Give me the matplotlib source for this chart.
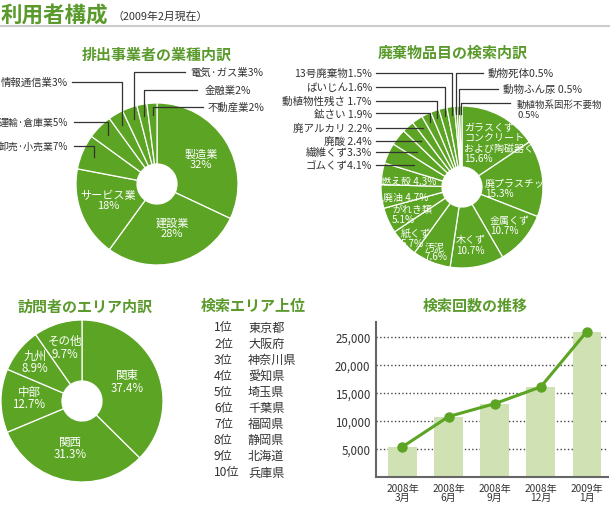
import numpy as np
import matplotlib
matplotlib.use('Agg')
import matplotlib.pyplot as plt
from matplotlib.patches import Circle

plt.rcParams['font.family'] = ['Noto Sans CJK JP', 'DejaVu Sans']

W, H = 610, 506
GREEN = '#5ca424'
TITLE_GREEN = '#5a9a2c'
BAR_GREEN = '#d0e2b4'
TXT = '#333333'

# ---- data ----
ind_labels = ['製造業', '建設業', 'サービス業', '卸売·小売業', '運輸·倉庫業',
              '情報通信業', '電気·ガス業', '金融業', '不動産業']
ind_values = [32, 28, 18, 7, 5, 3, 3, 2, 2]

waste_labels = ['ガラスくず\nコンクリートくず\nおよび陶磁器くず', '廃プラスチック', '金属くず', '木くず',
                '汚泥', '紙くず', 'がれき類', '廃油', '燃え殻', 'ゴムくず', '繊維くず', '廃酸',
                '廃アルカリ', '鉱さい', '動植物性残さ', 'ばいじん', '13号廃棄物', '動物死体',
                '動物ふん尿', '動植物系固形不要物']
waste_values = [15.6, 15.3, 10.7, 10.7, 7.6, 5.7, 5.1, 4.7, 4.3, 4.1, 3.3, 2.4,
                2.2, 1.9, 1.7, 1.6, 1.5, 0.5, 0.5, 0.5]

area_labels = ['関東', '関西', '中部', '九州', 'その他']
area_values = [37.4, 31.3, 12.7, 8.9, 9.7]

rank_nums = ['1位', '2位', '3位', '4位', '5位', '6位', '7位', '8位', '9位', '10位']
rank_prefs = ['東京都', '大阪府', '神奈川県', '愛知県', '埼玉県', '千葉県', '福岡県',
              '静岡県', '北海道', '兵庫県']

months = ['2008年\n3月', '2008年\n6月', '2008年\n9月', '2008年\n12月', '2009年\n1月']
searches = [5400, 10800, 13100, 16100, 26000]

fig = plt.figure(figsize=(W / 100, H / 100), dpi=100)
ax = fig.add_axes([0, 0, 1, 1])


def donut(values, cx, cy, r):
    wedges, _ = ax.pie(values, center=(cx, cy), radius=r, startangle=-90, counterclock=True,
                       colors=[GREEN] * len(values),
                       wedgeprops=dict(width=r - 20, edgecolor='white', linewidth=0.9))
    return wedges


def anchor(w, cx, cy, r, rho):
    t = np.deg2rad((w.theta1 + w.theta2) / 2)
    return cx + rho * r * np.cos(t), cy + rho * r * np.sin(t)


# header
ax.text(1, 15, '利用者構成', fontsize=15.5, fontweight='bold', color=TITLE_GREEN, va='center')
ax.text(112, 17, '（2009年2月現在）', fontsize=7.8, color=TXT, va='center')
ax.plot([0, W], [27, 27], color='#cccccc', lw=1.5)

# titles
for t, x, y in [('排出事業者の業種内訳', 157, 55), ('廃棄物品目の検索内訳', 453, 53),
                ('訪問者のエリア内訳', 85, 307), ('検索エリア上位', 253, 306),
                ('検索回数の推移', 475, 306)]:
    ax.text(x, y, t, fontsize=10.8, fontweight='bold', color=TITLE_GREEN, ha='center', va='center')

# ---- pie 1 ----
c1 = (157, 185, 81)
w1 = donut(ind_values, *c1)
inner1 = {0: (201, 160), 1: (172, 229), 2: (108, 201)}
for i, (x, y) in inner1.items():
    ax.text(x, y, f'{ind_labels[i]}\n{ind_values[i]}%', color='white', fontsize=8,
            ha='center', va='center', linespacing=1.0)
outer1 = {3: (68, 147, 'right', 74), 4: (68, 123, 'right', 74), 5: (68, 83, 'right', 72),
          6: (190, 73, 'left', 185), 7: (205, 91, 'left', 197), 8: (208, 108, 'left', 203)}
for i, (lx, ly, ha, lend) in outer1.items():
    axx, ayy = anchor(w1[i], *c1, 0.85)
    ax.plot([axx, axx, lend], [ayy, ly, ly], color=TXT, lw=0.9)
    fs = 7.1 if i in (3, 4) else 7.5
    ax.text(lx, ly, f'{ind_labels[i]}{ind_values[i]}%', ha=ha, va='center', fontsize=fs, color=TXT)

# ---- pie 2 ----
c2 = (462, 188, 81)
w2 = donut(waste_values, *c2)
clip2 = Circle(c2[:2], c2[2] - 1, transform=ax.transData)
inner2 = {0: (464, 143.5), 1: (485, 188.5), 2: (490, 225.5), 3: (456, 245.5), 4: (425, 252.5),
          5: (401, 239), 6: (392, 215), 7: (383, 198), 8: (381, 182)}
for i, (x, y) in inner2.items():
    sep = ' ' if i in (7, 8) else '\n'
    t = ax.text(x, y, f'{waste_labels[i]}{sep}{waste_values[i]}%', color='white', fontsize=7.2,
                ha='left', va='center', linespacing=1.0)
    t.set_clip_path(clip2)

spaced = {11, 12, 13, 14, 18}
left_vert = {16: 74, 15: 88, 14: 102, 13: 114}
for i, ly in left_vert.items():
    axx, ayy = anchor(w2[i], *c2, 0.9)
    ax.plot([376, axx, axx], [ly, ly, ayy], color=TXT, lw=0.9)
left_horiz = {12: 129, 11: 142, 10: 153, 9: 166}
for i, ly in left_horiz.items():
    t = np.deg2rad((w2[i].theta1 + w2[i].theta2) / 2)
    xe = c2[0] + (ly - c2[1]) / np.tan(t)
    ax.plot([376, xe], [ly, ly], color=TXT, lw=0.9)
for i, ly in {**left_vert, **left_horiz}.items():
    sep = ' ' if i in spaced else ''
    ax.text(372, ly, f'{waste_labels[i]}{sep}{waste_values[i]}%', ha='right', va='center',
            fontsize=7.6, color=TXT)

right = {17: (488, 74, 483), 18: (503, 90, 498), 19: (517, 104, 510)}
for i, (lx, ly, lend) in right.items():
    axx, ayy = anchor(w2[i], *c2, 0.9)
    ax.plot([axx, axx, lend], [ayy, ly, ly], color=TXT, lw=0.9)
    sep = '\n' if i == 19 else (' ' if i in spaced else '')
    yy = ly + 6.5 if i == 19 else ly
    fs = 6.8 if i == 19 else 7.6
    ax.text(lx, yy, f'{waste_labels[i]}{sep}{waste_values[i]}%', ha='left', va='center',
            fontsize=fs, color=TXT, linespacing=1.2)

# ---- pie 3 ----
c3 = (82, 402, 81)
w3 = donut(area_values, *c3)
inner3 = {0: (127, 381.5), 1: (70, 448.5), 2: (29, 398.5), 3: (35, 362.5), 4: (65, 347.5)}
for i, (x, y) in inner3.items():
    ax.text(x, y, f'{area_labels[i]}\n{area_values[i]}%', color='white', fontsize=8.3,
            ha='center', va='center', linespacing=1.0)

# ---- ranking ----
for i, (n, p) in enumerate(zip(rank_nums, rank_prefs)):
    y = 328 + 16.1 * i
    ax.text(214, y, n, fontsize=8.7, color=TXT, va='center')
    ax.text(248, y, p, fontsize=8.7, color=TXT, va='center')

ax.set_xlim(0, W)
ax.set_ylim(H, 0)
ax.set_aspect('auto')
ax.axis('off')

# ---- line chart ----
bx = fig.add_axes([376 / W, 1 - 478 / H, 232 / W, 155 / H])
x = np.arange(len(months))
bx.bar(x, searches, width=0.62, color=BAR_GREEN, zorder=2)
bx.plot(x, searches, color=GREEN, lw=2.2, marker='o', ms=6.5, zorder=3)
bx.set_xlim(-0.575, 4.46)
bx.set_ylim(0, 27700)
bx.set_yticks([5000, 10000, 15000, 20000, 25000])
bx.set_yticklabels([f'{v:,}' for v in [5000, 10000, 15000, 20000, 25000]])
bx.set_xticks(x)
bx.set_xticklabels(months, linespacing=0.95)
bx.tick_params(length=0, labelsize=8.3, colors=TXT, pad=4)
bx.tick_params(axis='x', labelsize=7.3)
bx.yaxis.grid(True, linestyle=':', color='#444444', lw=1, zorder=1)
bx.set_axisbelow(True)
for s in ['top', 'right']:
    bx.spines[s].set_visible(False)
for s in ['left', 'bottom']:
    bx.spines[s].set_color('#666666')
    bx.spines[s].set_linewidth(1.5)

fig.savefig('out.png', dpi=100)
